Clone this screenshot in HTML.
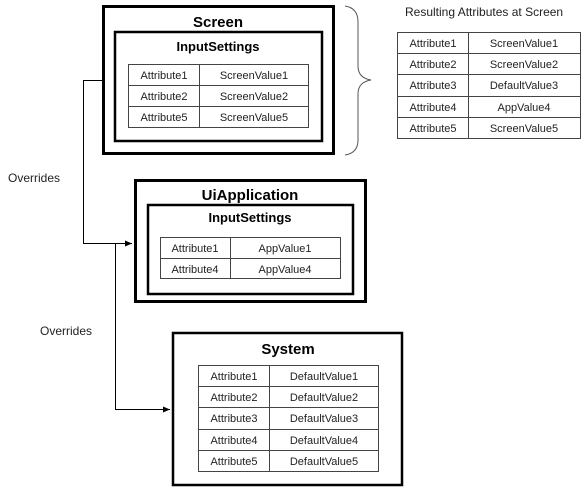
<!DOCTYPE html>
<html><head><style>
body{margin:0;background:#fff}
svg text{font-family:"Liberation Sans",sans-serif}
</style></head><body>
<svg width="582" height="488" viewBox="0 0 582 488" xmlns="http://www.w3.org/2000/svg">
<defs><marker id="a" markerWidth="8" markerHeight="8" refX="7" refY="4" orient="auto" markerUnits="userSpaceOnUse"><path d="M0,1 L7,4 L0,7 z" fill="#000"/></marker></defs>
<g fill="none" stroke="#000">
<!-- Screen -->
<rect x="103.5" y="6.5" width="230" height="147" stroke-width="3"/>
<rect x="115" y="32" width="207" height="109" stroke-width="2.5"/>
<!-- UiApplication -->
<rect x="135.5" y="180.5" width="230" height="121" stroke-width="3"/>
<rect x="148" y="205" width="205" height="89" stroke-width="2.5"/>
<!-- System -->
<rect x="173" y="333" width="229" height="152" stroke-width="2.5"/>
<!-- connectors -->
<path d="M103,80.5 H83.5 V243.5 H132" stroke-width="1" marker-end="url(#a)"/>
<path d="M115.5,243.5 V409.5 H170" stroke-width="1" marker-end="url(#a)"/>
<!-- brace -->
<path d="M345,6 Q358,8 358,22 V66 Q358,78 371,80 Q358,82 358,94 V140 Q358,153 345,155" stroke="#555" stroke-width="1"/>
</g>
<g font-size="15" font-weight="bold" text-anchor="middle">
<text x="218" y="27">Screen</text>
<text x="250" y="200">UiApplication</text>
<text x="288" y="354">System</text>
</g>
<g font-size="13" font-weight="bold" text-anchor="middle">
<text x="218" y="51">InputSettings</text>
<text x="250" y="222">InputSettings</text>
</g>
<g font-size="12" fill="#222">
<text x="8" y="182">Overrides</text>
<text x="40" y="335">Overrides</text>
<text x="405" y="16">Resulting Attributes at Screen</text>
</g>
<g stroke="#444" stroke-width="1" fill="none">
<!-- screen table -->
<rect x="128.5" y="64.5" width="180" height="63"/>
<path d="M128.5,85.5 H308.5 M128.5,106.5 H308.5 M199.5,64.5 V127.5"/>
<!-- app table -->
<rect x="160.5" y="237.5" width="180" height="41"/>
<path d="M160.5,258.5 H340.5 M230.5,237.5 V278.5"/>
<!-- system table -->
<rect x="198.5" y="365.5" width="180" height="106"/>
<path d="M198.5,386.5 H378.5 M198.5,407.5 H378.5 M198.5,429.5 H378.5 M198.5,450.5 H378.5 M269.5,365.5 V471.5"/>
<!-- result table -->
<rect x="397.5" y="32.5" width="183" height="106"/>
<path d="M397.5,53.5 H580.5 M397.5,74.5 H580.5 M397.5,96.5 H580.5 M397.5,117.5 H580.5 M468.5,32.5 V138.5"/>
</g>
<g font-size="11" fill="#222" text-anchor="middle">
<text x="164" y="79">Attribute1</text><text x="254" y="79">ScreenValue1</text>
<text x="164" y="100">Attribute2</text><text x="254" y="100">ScreenValue2</text>
<text x="164" y="121">Attribute5</text><text x="254" y="121">ScreenValue5</text>

<text x="195" y="252">Attribute1</text><text x="285" y="252">AppValue1</text>
<text x="195" y="273">Attribute4</text><text x="285" y="273">AppValue4</text>

<text x="234" y="380">Attribute1</text><text x="324" y="380">DefaultValue1</text>
<text x="234" y="401">Attribute2</text><text x="324" y="401">DefaultValue2</text>
<text x="234" y="422">Attribute3</text><text x="324" y="422">DefaultValue3</text>
<text x="234" y="444">Attribute4</text><text x="324" y="444">DefaultValue4</text>
<text x="234" y="465">Attribute5</text><text x="324" y="465">DefaultValue5</text>

<text x="433" y="47">Attribute1</text><text x="524" y="47">ScreenValue1</text>
<text x="433" y="68">Attribute2</text><text x="524" y="68">ScreenValue2</text>
<text x="433" y="89">Attribute3</text><text x="524" y="89">DefaultValue3</text>
<text x="433" y="111">Attribute4</text><text x="524" y="111">AppValue4</text>
<text x="433" y="132">Attribute5</text><text x="524" y="132">ScreenValue5</text>
</g>
</svg>
</body></html>
